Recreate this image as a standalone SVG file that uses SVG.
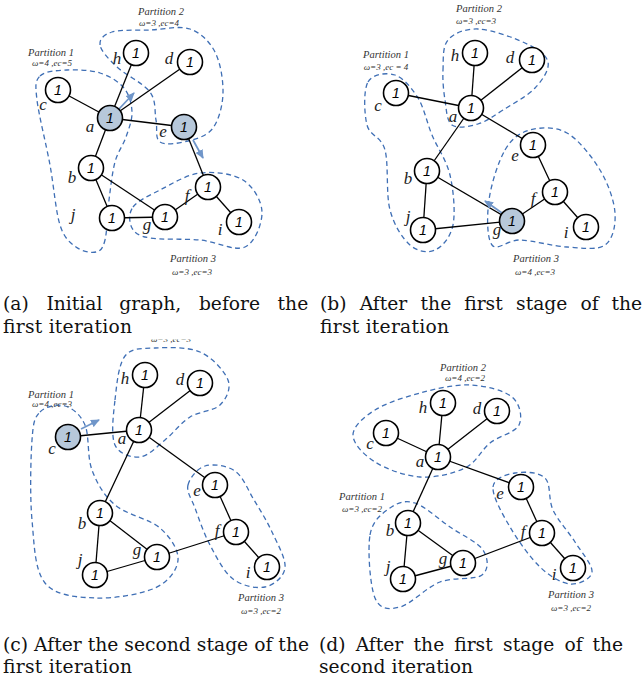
<svg xmlns="http://www.w3.org/2000/svg" width="643" height="682" viewBox="0 0 643 682">
<style>
.bg{fill:#fff}
.edge{stroke:#000;stroke-width:1.3;fill:none}
.part{fill:none;stroke:#3f6fb5;stroke-width:1.3;stroke-dasharray:5 3.5}
.nd{fill:#fff;stroke:#000;stroke-width:1.6}
.sel{fill:#b7c8da;stroke:#000;stroke-width:1.6}
.num{font-family:"Liberation Sans",Arial,sans-serif;font-style:italic;font-size:14px;text-anchor:middle;fill:#000}
.lbl{font-family:"Liberation Serif","Times New Roman",serif;font-style:italic;font-size:17px;text-anchor:middle;fill:#222}
.pt{font-family:"Liberation Serif","Times New Roman",serif;font-style:italic;font-size:10.5px;fill:#333;text-anchor:middle}
.pw{font-family:"Liberation Serif","Times New Roman",serif;font-style:italic;font-size:9px;fill:#333;text-anchor:middle}
.cap{font-family:"DejaVu Serif","Liberation Serif",serif;font-size:18.7px;fill:#111}
.mv{stroke:#7096c9;stroke-width:1.8;fill:none}
</style>
<defs>
<marker id="ah" markerWidth="9" markerHeight="8" refX="8" refY="4" orient="auto" markerUnits="userSpaceOnUse">
<path d="M0,0 L9,4 L0,8 z" fill="#7096c9"/>
</marker>
<clipPath id="cut"><rect x="130" y="339.5" width="80" height="6"/></clipPath>
</defs>
<rect class="bg" x="0" y="0" width="643" height="682"/>

<!-- Partitions -->
<g id="partitions">
<path class="part" d="M40,76 C45,71 57,70.5 67,70 S90.5,70 100,73 S118.7,81.5 124,88 S131.7,103.8 132,112 S128.8,128.7 126,137 S117.8,151.5 115,162 S110.7,187 109,200 S107.2,231.3 105,240 S100.8,250.8 96,252 S82,251.5 76,247 S64.3,238.7 60,225 S53.8,185.8 50,165 S38.7,114.8 37,100 S35,81 40,76 Z"/>
<path class="part" d="M100,45 C99.2,39.2 103.7,34.5 112,32 S137,30.5 150,30 S179.2,25.3 190,29 S209.5,41.3 215,52 S223.3,80.3 223,93 S218.8,120 213,128 S196.8,138.7 188,141 S165.3,145.5 160,142 S157.7,128.3 156,120 S156.5,100.8 150,92 S125.3,74.8 117,67 S100.8,50.8 100,45 Z"/>
<path class="part" d="M133,207 C137.7,200.7 148.8,195.7 160,190 S186.2,174.7 200,173 S232.7,173.5 243,180 S261.7,200.8 262,212 S255.3,242.3 245,247 S215.8,241.5 200,240 S161.3,240 150,238 S134.8,233.2 132,228 S128.3,213.3 133,207 Z"/>

<path class="part" d="M368,82 C372.7,73.7 386.7,72.3 395,75 S411.8,88 418,98 S426.7,122.2 432,135 S446.5,160 450,175 S455.5,212.5 453,225 S442.2,246.7 435,250 S417.5,251.7 410,245 S394.2,225.8 390,210 S388.8,164.2 385,150 S369.8,136.3 367,125 S363.3,90.3 368,82 Z"/>
<path class="part" d="M443,70 C443.5,60 442.2,46.8 448,40 S465.2,28.5 478,29 S513.3,37.5 525,43 S546.3,54.5 548,62 S542.5,80 535,88 S512.5,104 503,110 S486.5,121.5 478,124 S457.5,129 452,125 S446.5,109.2 445,100 S442.5,80 443,70 Z"/>
<path class="part" d="M505,150 C511.8,138.3 519.7,132.8 530,130 S555.3,126.3 567,133 S592,156.7 600,170 S614.2,200.5 615,213 S613,239.3 605,245 S581.2,247.8 567,247 S532.5,240.3 520,240 S497.2,251.7 492,245 S486.8,215.8 489,200 S498.2,161.7 505,150 Z"/>

<path class="part" d="M40,412 C45.5,406.3 57.5,403.8 65,406 S80.5,414.3 85,425 S87,456.7 92,470 S103.7,495.3 115,505 S149.5,518.8 160,528 S178.8,550 178,560 S168.8,581.7 155,588 S113.3,598.8 95,598 S55.5,596 45,583 S34.2,543.8 32,520 S30.7,458 32,440 S34.5,417.7 40,412 Z"/>
<path class="part" d="M115,400 C116.7,385.2 118.3,364.7 125,356 S142.5,348.7 155,348 S187.8,346.7 200,352 S224.7,371.2 228,380 S226.3,398.8 220,405 S199.2,411.2 190,417 S173.3,433.3 165,440 S148.3,456.2 140,457 S119.2,454.5 115,445 S113.3,414.8 115,400 Z"/>
<path class="part" d="M188,485 C189.7,478 197.2,468.3 205,466 S226.8,465.3 235,471 S247.8,489.8 254,500 S266.8,520.7 272,532 S286.2,558.8 285,568 S273.7,585.2 265,587 S242.2,586 233,579 S216.3,556.8 210,545 S198.7,518 195,508 S186.3,492 188,485 Z"/>

<path class="part" d="M353,435 C353,426.3 363.8,417 375,410 S404.2,397.2 420,393 S454.7,384.3 470,385 S503.8,390.3 512,397 S522.7,417.3 519,425 S499,435.8 490,443 S476.7,462.3 465,468 S435,478 420,477 S386.2,469 375,462 S353,443.7 353,435 Z"/>
<path class="part" d="M370,535 C372.5,520 382.5,513.3 390,508 S405,499.8 415,503 S438.7,519.2 450,527 S477.7,542 483,550 S489.2,569.7 482,575 S453.7,576.7 440,582 S410.8,604.3 400,607 S380,610 375,598 S367.5,550 370,535 Z"/>
<path class="part" d="M493,487 C493.8,478 506.3,474.5 515,473 S538.7,471.8 545,478 S548,499.3 553,510 S568.5,531.7 575,542 S592.8,565 592,572 S578.7,584.8 570,584 S550,576.5 540,567 S517.8,540.3 510,527 S492.2,496 493,487 Z"/>
</g>

<!-- Partition labels -->
<g id="partition-labels">
<text class="pt" x="51" y="56">Partition 1</text><text class="pw" x="52" y="66">ω=4 ,ec=5</text>
<text class="pt" x="161" y="15">Partition 2</text><text class="pw" x="159" y="26">ω=3 ,ec=4</text>
<text class="pt" x="193" y="262">Partition 3</text><text class="pw" x="192" y="275">ω=3 ,ec=3</text>

<text class="pt" x="386" y="58">Partition 1</text><text class="pw" x="386" y="70">ω=3 ,ec = 4</text>
<text class="pt" x="479" y="12">Partition 2</text><text class="pw" x="476" y="24">ω=3 ,ec=3</text>
<text class="pt" x="536" y="262">Partition 3</text><text class="pw" x="535" y="275">ω=4 ,ec=3</text>

<text class="pt" x="51" y="398">Partition 1</text><text class="pw" x="52" y="407">ω=4 ,ec=3</text>
<text class="pw" x="171" y="342" clip-path="url(#cut)">ω=3 ,ec=3</text>
<text class="pt" x="261" y="601">Partition 3</text><text class="pw" x="261" y="614">ω=3 ,ec=2</text>

<text class="pt" x="463" y="371">Partition 2</text><text class="pw" x="465" y="381">ω=4 ,ec=2</text>
<text class="pt" x="362" y="500">Partition 1</text><text class="pw" x="362" y="512">ω=3 ,ec=2</text>
<text class="pt" x="571" y="598">Partition 3</text><text class="pw" x="571" y="611">ω=3 ,ec=2</text>
</g>

<!-- Connectors -->
<g id="connectors">
<g id="edges-a">
<line class="edge" x1="58" y1="90" x2="110" y2="118"/>
<line class="edge" x1="136" y1="53" x2="110" y2="118"/>
<line class="edge" x1="190" y1="62" x2="110" y2="118"/>
<line class="edge" x1="110" y1="118" x2="184" y2="127"/>
<line class="edge" x1="110" y1="118" x2="91" y2="168"/>
<line class="edge" x1="91" y1="168" x2="112" y2="218"/>
<line class="edge" x1="91" y1="168" x2="165" y2="217"/>
<line class="edge" x1="112" y1="218" x2="165" y2="217"/>
<line class="edge" x1="184" y1="127" x2="208" y2="187"/>
<line class="edge" x1="208" y1="187" x2="165" y2="217"/>
<line class="edge" x1="208" y1="187" x2="239" y2="222"/>
</g>
<g id="edges-b">
<line class="edge" x1="396" y1="93" x2="471" y2="108"/>
<line class="edge" x1="475" y1="53" x2="471" y2="108"/>
<line class="edge" x1="532" y1="60" x2="471" y2="108"/>
<line class="edge" x1="471" y1="108" x2="533" y2="145"/>
<line class="edge" x1="471" y1="108" x2="427" y2="171"/>
<line class="edge" x1="427" y1="171" x2="423" y2="230"/>
<line class="edge" x1="427" y1="171" x2="512" y2="221"/>
<line class="edge" x1="423" y1="230" x2="512" y2="221"/>
<line class="edge" x1="533" y1="145" x2="555" y2="192"/>
<line class="edge" x1="555" y1="192" x2="512" y2="221"/>
<line class="edge" x1="555" y1="192" x2="586" y2="227"/>
</g>
<g id="edges-c">
<line class="edge" x1="68" y1="437" x2="139" y2="430"/>
<line class="edge" x1="145" y1="375" x2="139" y2="430"/>
<line class="edge" x1="200" y1="383" x2="139" y2="430"/>
<line class="edge" x1="139" y1="430" x2="215" y2="485"/>
<line class="edge" x1="139" y1="430" x2="100" y2="513"/>
<line class="edge" x1="100" y1="513" x2="95" y2="575"/>
<line class="edge" x1="100" y1="513" x2="157" y2="557"/>
<line class="edge" x1="95" y1="575" x2="157" y2="557"/>
<line class="edge" x1="215" y1="485" x2="236" y2="532"/>
<line class="edge" x1="236" y1="532" x2="157" y2="557"/>
<line class="edge" x1="236" y1="532" x2="267" y2="567"/>
</g>
<g id="edges-d">
<line class="edge" x1="386" y1="433" x2="438" y2="457"/>
<line class="edge" x1="443" y1="403" x2="438" y2="457"/>
<line class="edge" x1="497" y1="411" x2="438" y2="457"/>
<line class="edge" x1="438" y1="457" x2="521" y2="487"/>
<line class="edge" x1="438" y1="457" x2="408" y2="523"/>
<line class="edge" x1="408" y1="523" x2="403" y2="579"/>
<line class="edge" x1="408" y1="523" x2="463" y2="563"/>
<line class="edge" x1="403" y1="579" x2="463" y2="563"/>
<line class="edge" x1="521" y1="487" x2="542" y2="533"/>
<line class="edge" x1="542" y1="533" x2="463" y2="563"/>
<line class="edge" x1="542" y1="533" x2="573" y2="568"/>
</g>
<g id="moves">
<line class="mv" x1="119" y1="109" x2="134" y2="93" marker-end="url(#ah)"/>
<line class="mv" x1="193" y1="140" x2="203" y2="158" marker-end="url(#ah)"/>
<line class="mv" x1="502" y1="213" x2="485" y2="201" marker-end="url(#ah)"/>
<line class="mv" x1="81" y1="429" x2="99" y2="420" marker-end="url(#ah)"/>
</g>
</g>

<!-- Panel (a) nodes -->
<g id="a-c"><circle class="nd" cx="58" cy="90" r="12.5"/><text class="num" x="58" y="95">1</text><text class="lbl" x="43" y="110">c</text></g>
<g id="a-h"><circle class="nd" cx="136" cy="53" r="12.5"/><text class="num" x="136" y="58">1</text><text class="lbl" x="117" y="64">h</text></g>
<g id="a-d"><circle class="nd" cx="190" cy="62" r="12.5"/><text class="num" x="190" y="67">1</text><text class="lbl" x="169" y="64">d</text></g>
<g id="a-a"><circle class="sel" cx="110" cy="118" r="12.5"/><text class="num" x="110" y="123">1</text><text class="lbl" x="90" y="132">a</text></g>
<g id="a-e"><circle class="sel" cx="184" cy="127" r="12.5"/><text class="num" x="184" y="132">1</text><text class="lbl" x="163" y="137">e</text></g>
<g id="a-b"><circle class="nd" cx="91" cy="168" r="12.5"/><text class="num" x="91" y="173">1</text><text class="lbl" x="72" y="183">b</text></g>
<g id="a-j"><circle class="nd" cx="112" cy="218" r="12.5"/><text class="num" x="112" y="223">1</text><text class="lbl" x="73" y="220">j</text></g>
<g id="a-g"><circle class="nd" cx="165" cy="217" r="12.5"/><text class="num" x="165" y="222">1</text><text class="lbl" x="147" y="230">g</text></g>
<g id="a-f"><circle class="nd" cx="208" cy="187" r="12.5"/><text class="num" x="208" y="192">1</text><text class="lbl" x="187" y="201">f</text></g>
<g id="a-i"><circle class="nd" cx="239" cy="222" r="12.5"/><text class="num" x="239" y="227">1</text><text class="lbl" x="220" y="235">i</text></g>

<!-- Panel (b) nodes -->
<g id="b-c"><circle class="nd" cx="396" cy="93" r="12.5"/><text class="num" x="396" y="98">1</text><text class="lbl" x="378" y="111">c</text></g>
<g id="b-h"><circle class="nd" cx="475" cy="53" r="12.5"/><text class="num" x="475" y="58">1</text><text class="lbl" x="455" y="61">h</text></g>
<g id="b-d"><circle class="nd" cx="532" cy="60" r="12.5"/><text class="num" x="532" y="65">1</text><text class="lbl" x="510" y="63">d</text></g>
<g id="b-a"><circle class="nd" cx="471" cy="108" r="12.5"/><text class="num" x="471" y="113">1</text><text class="lbl" x="453" y="122">a</text></g>
<g id="b-e"><circle class="nd" cx="533" cy="145" r="12.5"/><text class="num" x="533" y="150">1</text><text class="lbl" x="515" y="161">e</text></g>
<g id="b-b"><circle class="nd" cx="427" cy="171" r="12.5"/><text class="num" x="427" y="176">1</text><text class="lbl" x="408" y="184">b</text></g>
<g id="b-j"><circle class="nd" cx="423" cy="230" r="12.5"/><text class="num" x="423" y="235">1</text><text class="lbl" x="408" y="222">j</text></g>
<g id="b-g"><circle class="sel" cx="512" cy="221" r="12.5"/><text class="num" x="512" y="226">1</text><text class="lbl" x="497" y="235">g</text></g>
<g id="b-f"><circle class="nd" cx="555" cy="192" r="12.5"/><text class="num" x="555" y="197">1</text><text class="lbl" x="533" y="204">f</text></g>
<g id="b-i"><circle class="nd" cx="586" cy="227" r="12.5"/><text class="num" x="586" y="232">1</text><text class="lbl" x="566" y="238">i</text></g>

<!-- Panel (c) nodes -->
<g id="c-c"><circle class="sel" cx="68" cy="437" r="12.5"/><text class="num" x="68" y="442">1</text><text class="lbl" x="52" y="454">c</text></g>
<g id="c-h"><circle class="nd" cx="145" cy="375" r="12.5"/><text class="num" x="145" y="380">1</text><text class="lbl" x="125" y="384">h</text></g>
<g id="c-d"><circle class="nd" cx="200" cy="383" r="12.5"/><text class="num" x="200" y="388">1</text><text class="lbl" x="180" y="385">d</text></g>
<g id="c-a"><circle class="nd" cx="139" cy="430" r="12.5"/><text class="num" x="139" y="435">1</text><text class="lbl" x="122" y="444">a</text></g>
<g id="c-e"><circle class="nd" cx="215" cy="485" r="12.5"/><text class="num" x="215" y="490">1</text><text class="lbl" x="197" y="496">e</text></g>
<g id="c-b"><circle class="nd" cx="100" cy="513" r="12.5"/><text class="num" x="100" y="518">1</text><text class="lbl" x="82" y="529">b</text></g>
<g id="c-j"><circle class="nd" cx="95" cy="575" r="12.5"/><text class="num" x="95" y="580">1</text><text class="lbl" x="80" y="565">j</text></g>
<g id="c-g"><circle class="nd" cx="157" cy="557" r="12.5"/><text class="num" x="157" y="562">1</text><text class="lbl" x="137" y="555">g</text></g>
<g id="c-f"><circle class="nd" cx="236" cy="532" r="12.5"/><text class="num" x="236" y="537">1</text><text class="lbl" x="217" y="536">f</text></g>
<g id="c-i"><circle class="nd" cx="267" cy="567" r="12.5"/><text class="num" x="267" y="572">1</text><text class="lbl" x="248" y="578">i</text></g>

<!-- Panel (d) nodes -->
<g id="d-c"><circle class="nd" cx="386" cy="433" r="12.5"/><text class="num" x="386" y="438">1</text><text class="lbl" x="370" y="449">c</text></g>
<g id="d-h"><circle class="nd" cx="443" cy="403" r="12.5"/><text class="num" x="443" y="408">1</text><text class="lbl" x="423" y="413">h</text></g>
<g id="d-d"><circle class="nd" cx="497" cy="411" r="12.5"/><text class="num" x="497" y="416">1</text><text class="lbl" x="477" y="414">d</text></g>
<g id="d-a"><circle class="nd" cx="438" cy="457" r="12.5"/><text class="num" x="438" y="462">1</text><text class="lbl" x="420" y="467">a</text></g>
<g id="d-e"><circle class="nd" cx="521" cy="487" r="12.5"/><text class="num" x="521" y="492">1</text><text class="lbl" x="500" y="499">e</text></g>
<g id="d-b"><circle class="nd" cx="408" cy="523" r="12.5"/><text class="num" x="408" y="528">1</text><text class="lbl" x="390" y="536">b</text></g>
<g id="d-j"><circle class="nd" cx="403" cy="579" r="12.5"/><text class="num" x="403" y="584">1</text><text class="lbl" x="388" y="572">j</text></g>
<g id="d-g"><circle class="nd" cx="463" cy="563" r="12.5"/><text class="num" x="463" y="568">1</text><text class="lbl" x="443" y="564">g</text></g>
<g id="d-f"><circle class="nd" cx="542" cy="533" r="12.5"/><text class="num" x="542" y="538">1</text><text class="lbl" x="523" y="537">f</text></g>
<g id="d-i"><circle class="nd" cx="573" cy="568" r="12.5"/><text class="num" x="573" y="573">1</text><text class="lbl" x="554" y="580">i</text></g>

<!-- Captions -->
<g id="captions">
<text class="cap" y="310"><tspan x="3">(a)</tspan><tspan x="46.4">Initial</tspan><tspan x="119.2">graph,</tspan><tspan x="198.9">before</tspan><tspan x="277.6">the</tspan></text>
<text class="cap" x="3" y="333" textLength="129" lengthAdjust="spacing">first iteration</text>
<text class="cap" y="310"><tspan x="320">(b)</tspan><tspan x="359.7">After</tspan><tspan x="420.6">the</tspan><tspan x="464.2">first</tspan><tspan x="516.1">stage</tspan><tspan x="580.4">of</tspan><tspan x="611.5">the</tspan></text>
<text class="cap" x="320" y="333" textLength="129" lengthAdjust="spacing">first iteration</text>
<text class="cap" x="3" y="651" textLength="306" lengthAdjust="spacing">(c) After the second stage of the</text>
<text class="cap" x="3" y="673" textLength="129" lengthAdjust="spacing">first iteration</text>
<text class="cap" y="651"><tspan x="319">(d)</tspan><tspan x="355.7">After</tspan><tspan x="413.6">the</tspan><tspan x="454.2">first</tspan><tspan x="503.1">stage</tspan><tspan x="564.4">of</tspan><tspan x="592.5">the</tspan></text>
<text class="cap" x="319" y="673" textLength="154" lengthAdjust="spacing">second iteration</text>
</g>
</svg>
